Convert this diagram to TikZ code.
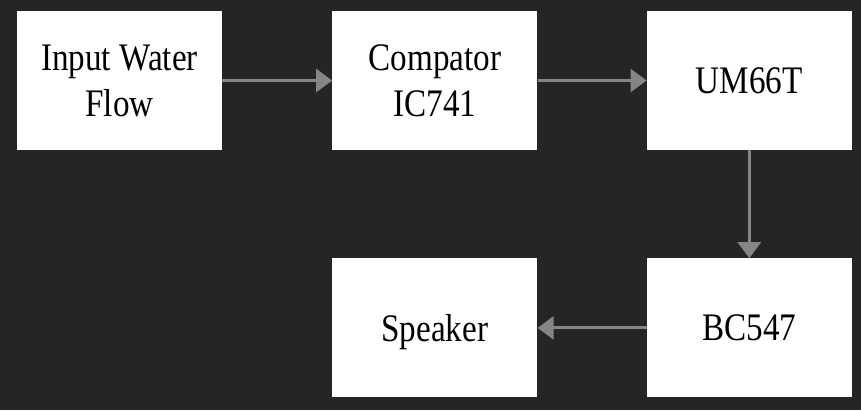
\documentclass[tikz,border=0pt]{standalone}
\usepackage{fontspec}
\setmainfont{Liberation Serif}[FakeStretch=0.85]
\usepackage{tikz}
\usetikzlibrary{arrows.meta,positioning}

\definecolor{bgdark}{HTML}{252525}
\definecolor{flowgray}{HTML}{858585}

\tikzset{
  block/.style={fill=white,draw=none,minimum width=205pt,minimum height=139pt,
    inner sep=0pt,align=center,font=\fontsize{39}{46}\selectfont},
  flow/.style={draw=flowgray,line width=3pt,
    -{Triangle[length=16pt,width=23pt]}},
}

\begin{document}
\begin{tikzpicture}[x=1pt,y=-1pt]
  \fill[bgdark] (0,0) rectangle (861,410);
  \useasboundingbox (0,0) rectangle (861,410);

  \node[block] (water) at (119.5,80.5) {Input Water\\Flow};
  \node[block,right=110pt of water] (comp) {Compator\\IC741};
  \node[block,right=109pt of comp] (um) {UM66T};
  \node[block,below=108pt of um] (bc) {BC547};
  \node[block,left=109pt of bc,text depth=0pt] (spk) {Speaker};

  \draw[flow] (water) -- (comp);
  \draw[flow] (comp) -- (um);
  \draw[flow] (um) -- (bc);
  \draw[flow] (bc) -- (spk);
\end{tikzpicture}
\end{document}
